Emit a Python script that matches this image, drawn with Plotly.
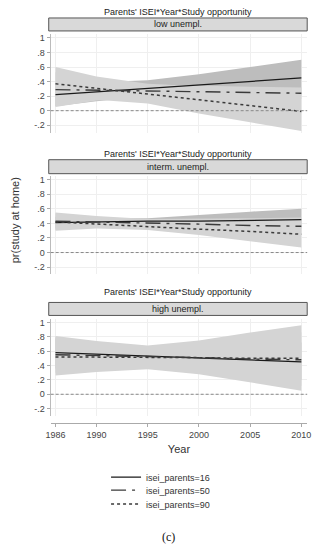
import plotly.graph_objects as go

years = [1986, 1990, 1995, 2000, 2005, 2010]
year_ticks = [1986, 1990, 1995, 2000, 2005, 2010]
y_tickvals = [-0.2, 0, 0.2, 0.4, 0.6, 0.8, 1]
y_ticktext = ["-.2", "0", ".2", ".4", ".6", ".8", "1"]

panel_titles = ["low unempl.", "interm. unempl.", "high unempl."]
series_names = ["isei_parents=16", "isei_parents=50", "isei_parents=90"]

# Panel 1: low unemployment
low_16 = [0.22, 0.26, 0.31, 0.35, 0.40, 0.45]
low_16_lo = [0.06, 0.13, 0.20, 0.22, 0.22, 0.21]
low_16_hi = [0.38, 0.39, 0.42, 0.50, 0.60, 0.70]
low_50 = [0.29, 0.28, 0.27, 0.26, 0.25, 0.24]
low_50_lo = [0.05, 0.14, 0.18, 0.18, 0.17, 0.16]
low_50_hi = [0.53, 0.43, 0.36, 0.34, 0.33, 0.32]
low_90 = [0.37, 0.31, 0.23, 0.15, 0.07, -0.01]
low_90_lo = [0.14, 0.15, 0.10, -0.04, -0.16, -0.28]
low_90_hi = [0.60, 0.47, 0.37, 0.34, 0.30, 0.26]

# Panel 2: intermediate unemployment
mid_16 = [0.41, 0.42, 0.43, 0.43, 0.44, 0.45]
mid_16_lo = [0.33, 0.36, 0.38, 0.38, 0.36, 0.33]
mid_16_hi = [0.49, 0.47, 0.47, 0.52, 0.56, 0.60]
mid_50 = [0.43, 0.42, 0.40, 0.39, 0.37, 0.36]
mid_50_lo = [0.31, 0.35, 0.35, 0.33, 0.30, 0.25]
mid_50_hi = [0.55, 0.50, 0.46, 0.46, 0.47, 0.48]
mid_90 = [0.42, 0.39, 0.36, 0.32, 0.29, 0.25]
mid_90_lo = [0.30, 0.33, 0.31, 0.24, 0.16, 0.07]
mid_90_hi = [0.54, 0.46, 0.42, 0.41, 0.42, 0.43]

# Panel 3: high unemployment
high_16 = [0.58, 0.56, 0.53, 0.50, 0.48, 0.45]
high_16_lo = [0.36, 0.40, 0.42, 0.38, 0.30, 0.20]
high_16_hi = [0.78, 0.72, 0.66, 0.65, 0.68, 0.72]
high_50 = [0.55, 0.54, 0.52, 0.51, 0.49, 0.48]
high_50_lo = [0.30, 0.34, 0.37, 0.32, 0.22, 0.12]
high_50_hi = [0.80, 0.73, 0.67, 0.70, 0.78, 0.86]
high_90 = [0.52, 0.52, 0.51, 0.51, 0.50, 0.50]
high_90_lo = [0.26, 0.31, 0.35, 0.28, 0.17, 0.05]
high_90_hi = [0.81, 0.74, 0.68, 0.75, 0.86, 0.96]

panels = [
    [(low_16, low_16_lo, low_16_hi), (low_50, low_50_lo, low_50_hi), (low_90, low_90_lo, low_90_hi)],
    [(mid_16, mid_16_lo, mid_16_hi), (mid_50, mid_50_lo, mid_50_hi), (mid_90, mid_90_lo, mid_90_hi)],
    [(high_16, high_16_lo, high_16_hi), (high_50, high_50_lo, high_50_hi), (high_90, high_90_lo, high_90_hi)],
]

W, H = 318, 550
def py(p):
    return 1 - p / H

x_dom = [47 / W, 311 / W]
y_doms = [
    [py(131.75), py(33.4)],
    [py(273.9), py(175.3)],
    [py(415.6), py(318.4)],
]
header_px = [(17, 30), (159, 173), (302, 315)]
title_px = [11, 153, 292]
legend_px = [477, 490, 504]

band_colors = ["#bdbdbd", "#d4d4d4", "#d4d4d4"]
line_styles = [("solid", "#1a1a1a", 1.3), ("longdashdot", "#3a3a3a", 1.4), ("dot", "#3a3a3a", 1.5)]
legend_ids = ["legend", "legend2", "legend3"]

fig = go.Figure()
for pi, panel in enumerate(panels):
    xa = "x" if pi == 0 else f"x{pi+1}"
    ya = "y" if pi == 0 else f"y{pi+1}"
    for si, (mid, lo, hi) in enumerate(panel):
        fig.add_trace(go.Scatter(
            x=years + years[::-1], y=hi + lo[::-1], fill="toself",
            fillcolor=band_colors[si], line=dict(width=0), mode="lines",
            hoverinfo="skip", showlegend=False, xaxis=xa, yaxis=ya))
    for si, (mid, lo, hi) in enumerate(panel):
        dash, col, w = line_styles[si]
        fig.add_trace(go.Scatter(
            x=years, y=mid, mode="lines", name=series_names[si],
            line=dict(color=col, width=w, dash=dash),
            showlegend=(pi == 0), legend=legend_ids[si], xaxis=xa, yaxis=ya))

font_main = "Liberation Sans, Arial, sans-serif"
layout = dict(
    width=W, height=H, margin=dict(l=0, r=0, t=0, b=0),
    paper_bgcolor="white", plot_bgcolor="white",
    font=dict(family=font_main, size=9, color="#333"),
    showlegend=True,
)
for li, lid in enumerate(legend_ids):
    layout[lid] = dict(x=104 / W, y=py(legend_px[li]), xanchor="left", yanchor="middle",
                       font=dict(size=9, color="#333"), bgcolor="rgba(0,0,0,0)")
for pi in range(3):
    sx = "" if pi == 0 else str(pi + 1)
    xa = dict(
        domain=x_dom, range=[1985.53, 2010.57], tickvals=year_ticks,
        showgrid=True, gridcolor="#efefef", gridwidth=1, zeroline=False,
        showticklabels=(pi == 2), showline=(pi == 2), linecolor="#aaa",
        ticks="outside" if pi == 2 else "", ticklen=3, tickcolor="#aaa",
        tickfont=dict(size=9, color="#444"),
        anchor=("y" + sx) if pi < 2 else "free",
    )
    if pi == 2:
        xa["position"] = py(423)
        xa["title"] = dict(text="Year", font=dict(size=11, color="#333"), standoff=6)
    layout[f"xaxis{sx}"] = xa
    layout[f"yaxis{sx}"] = dict(
        domain=y_doms[pi], range=[-0.3, 1.05], tickvals=y_tickvals, ticktext=y_ticktext,
        showgrid=True, gridcolor="#efefef", zeroline=False, showline=True,
        linecolor="#bbb", ticks="outside", ticklen=3, tickcolor="#aaa",
        tickfont=dict(size=9, color="#444"), anchor="x" + sx,
    )
fig.update_layout(**layout)

shapes = []
annotations = []
for pi in range(3):
    sx = "" if pi == 0 else str(pi + 1)
    shapes.append(dict(type="line", xref=f"x{sx} domain", yref=f"y{sx}", x0=0, x1=1, y0=0, y1=0,
                       line=dict(color="#888", width=1, dash="3px,2px"), layer="above"))
    t, b = header_px[pi]
    shapes.append(dict(type="rect", xref="paper", yref="paper", x0=45 / W, x1=311 / W,
                       y0=py(b), y1=py(t), fillcolor="#d9d9d9", line=dict(color="#555", width=1)))
    annotations.append(dict(text=panel_titles[pi], xref="paper", yref="paper",
                            x=178 / W, y=py((t + b) / 2), showarrow=False,
                            font=dict(size=9, color="#222"), xanchor="center", yanchor="middle"))
    annotations.append(dict(text="Parents' ISEI*Year*Study opportunity", xref="paper", yref="paper",
                            x=178 / W, y=py(title_px[pi]), showarrow=False,
                            font=dict(size=9, color="#222"), xanchor="center", yanchor="middle"))
annotations.append(dict(text="pr(study at home)", xref="paper", yref="paper", x=10 / W, y=py(220),
                        textangle=-90, showarrow=False, font=dict(size=11, color="#333"),
                        xanchor="center", yanchor="middle"))
annotations.append(dict(text="(c)", xref="paper", yref="paper", x=168 / W, y=py(537),
                        showarrow=False,
                        font=dict(size=12, color="#111", family="Liberation Serif, DejaVu Serif, serif"),
                        xanchor="center", yanchor="middle"))
fig.update_layout(shapes=shapes, annotations=annotations)

fig.write_html("out.html", config={"displayModeBar": False},
               post_script="document.body.style.margin='0';document.body.style.overflow='hidden';")
